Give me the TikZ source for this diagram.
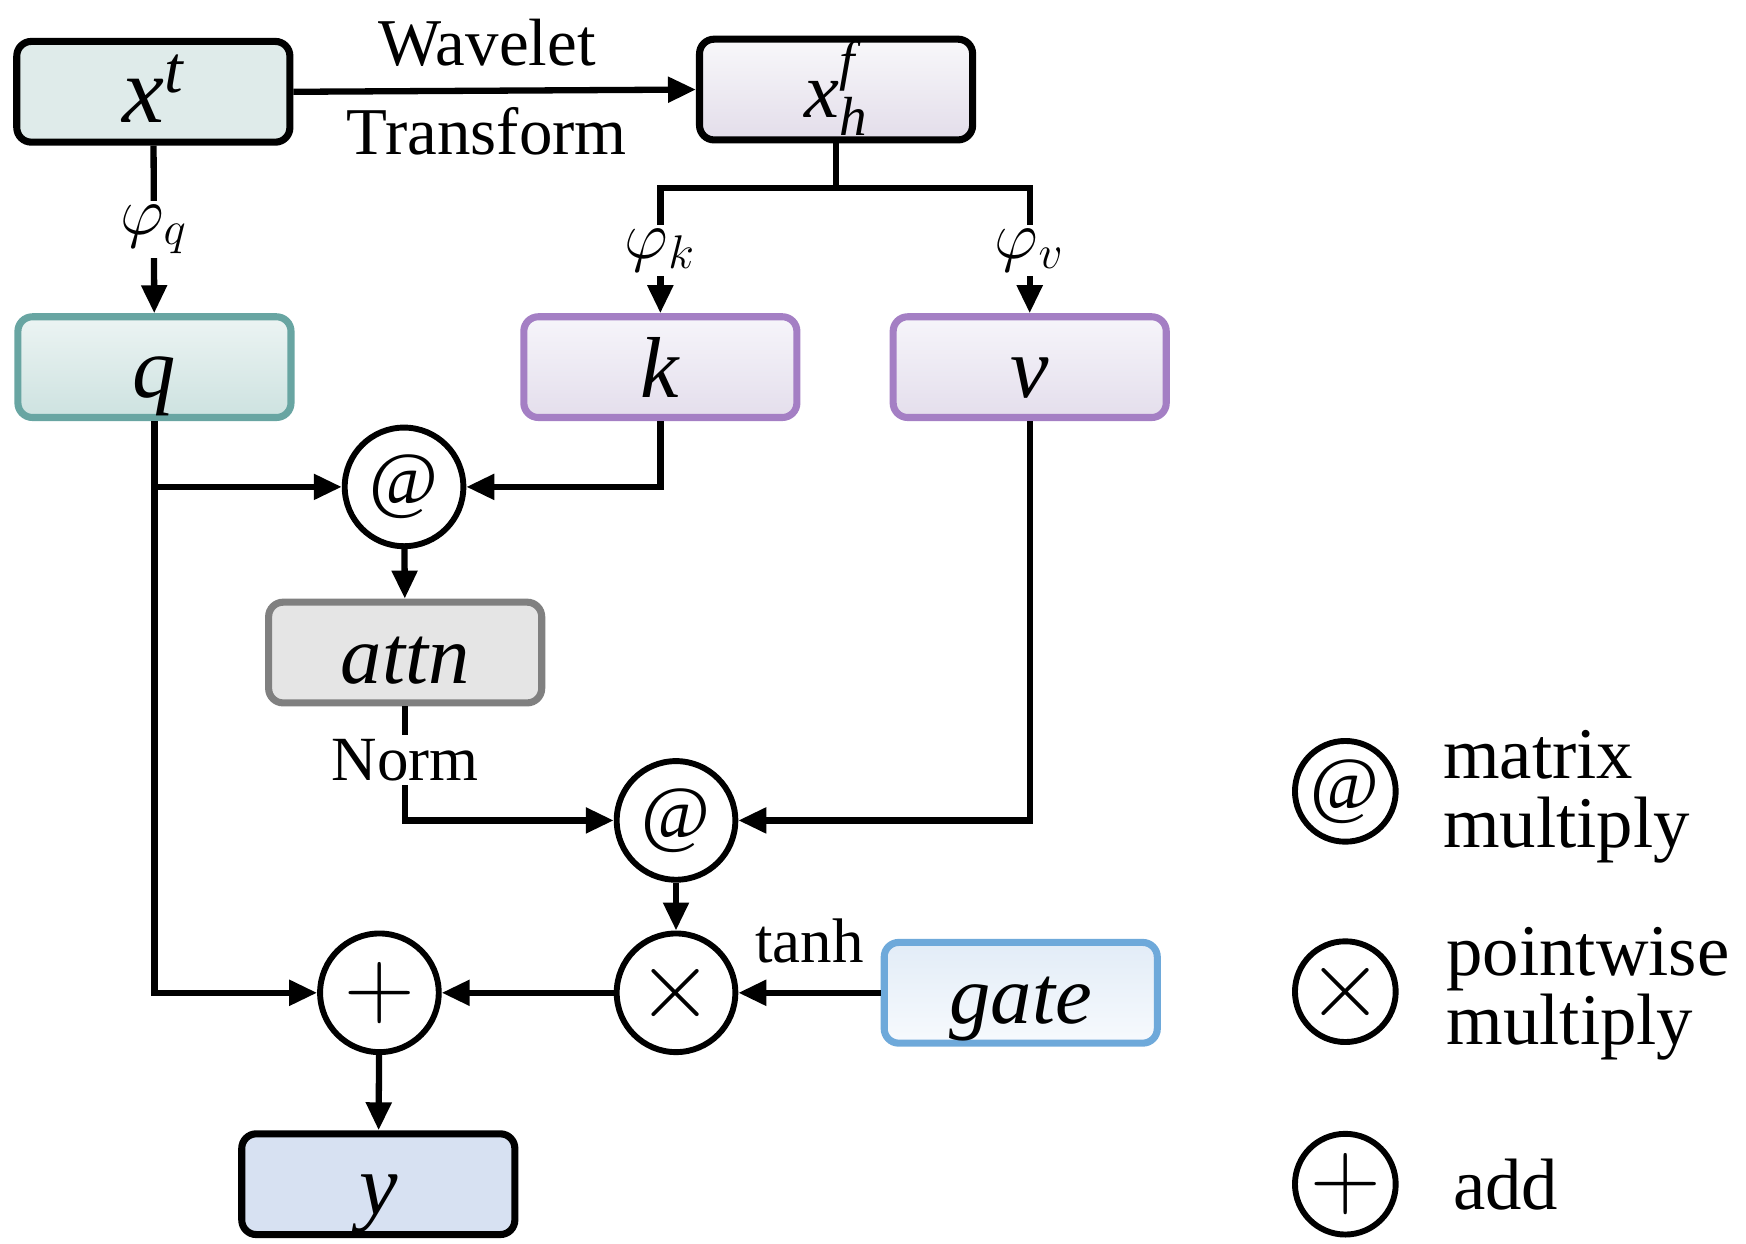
\documentclass[tikz,border=0pt]{standalone}
\usepackage{amsmath}
\usepackage{fontspec}
\setmainfont{Liberation Serif}
\usetikzlibrary{arrows.meta}
\definecolor{xtfill}{HTML}{DFEBEA}
\definecolor{qtop}{HTML}{ECF4F3}
\definecolor{qbot}{HTML}{CDE2E0}
\definecolor{qdraw}{HTML}{68A5A2}
\definecolor{kvtop}{HTML}{F6F5FA}
\definecolor{kvbot}{HTML}{E4DEEC}
\definecolor{kvdraw}{HTML}{A47FC4}
\definecolor{xftop}{HTML}{F8F8FA}
\definecolor{xfbot}{HTML}{E3DDEA}
\definecolor{attnfill}{HTML}{E5E5E5}
\definecolor{attndraw}{HTML}{808080}
\definecolor{gatetop}{HTML}{E2ECF7}
\definecolor{gatebot}{HTML}{F7FAFD}
\definecolor{gatedraw}{HTML}{6EA9DA}
\definecolor{yfill}{HTML}{D7E1F2}
\newcommand{\liftscr}[3]{\raisebox{#1}{\fontsize{#2}{#2}\selectfont\textit{#3}}}
\tikzset{
	blk/.style={rectangle, rounded corners=0.13cm, line width=1.8pt, minimum width=2.44cm, minimum height=0.9cm, text height=15.5pt, text depth=0pt, font=\fontsize{22}{24}\selectfont},
	opc/.style={circle, draw, line width=1.5pt, minimum size=1.06cm, inner sep=0pt, font=\fontsize{19}{20}\selectfont},
	arr/.style={line width=1.6pt, -{Triangle[length=0.25cm,width=0.22cm]}},
	lbl/.style={font=\fontsize{17}{19}\selectfont},
	leg/.style={font=\fontsize{18.5}{17.6}\selectfont, align=left, anchor=west},
}
\begin{document}
\begin{tikzpicture}
	\useasboundingbox (0,0) rectangle (15.6,-11.106);
	\node[blk, draw=black, fill=xtfill, font=\fontsize{24}{26}\selectfont] (xt) at (1.37,-0.82) {\textit{x}\liftscr{0.27cm}{17}{t}};
	\node[blk, draw=black, top color=xftop, bottom color=xfbot, font=\fontsize{20}{22}\selectfont, text height=14.2pt] (xf) at (7.47,-0.80) {\textit{x}\rlap{\liftscr{0.34cm}{14}{f}}\liftscr{-0.16cm}{14}{h}};
	\node[blk, draw=qdraw, top color=qtop, bottom color=qbot] (q) at (1.38,-3.28) {\textit{q}};
	\node[blk, draw=kvdraw, top color=kvtop, bottom color=kvbot] (k) at (5.90,-3.28) {\textit{k}};
	\node[blk, draw=kvdraw, top color=kvtop, bottom color=kvbot] (v) at (9.20,-3.28) {\textit{v}};
	\node[opc] (at1) at (3.61,-4.35) {@};
	\node[blk, draw=attndraw, fill=attnfill, font=\fontsize{21}{23}\selectfont] (attn) at (3.62,-5.83) {\textit{attn}};
	\node[opc] (at2) at (6.04,-7.33) {@};
	\node[opc, font=\fontsize{27}{27}\selectfont] (mul) at (6.04,-8.87) {$\times$};
	\node[blk, draw=gatedraw, top color=gatetop, bottom color=gatebot, font=\fontsize{21}{23}\selectfont] (gate) at (9.12,-8.87) {\textit{gate}};
	\node[opc, font=\fontsize{28}{28}\selectfont] (add) at (3.39,-8.87) {$+$};
	\node[blk, draw=black, fill=yfill] (y) at (3.38,-10.58) {\textit{y}};
	\coordinate (br) at (7.47,-1.68);

	\draw[arr] (xt.east) -- node[lbl, above=0.07cm, xshift=-0.07cm]{Wavelet} node[lbl, below=0cm, xshift=-0.07cm]{Transform} (xf.west);
	\draw[arr] (xt) -- node[lbl, fill=white, inner sep=1pt, font=\fontsize{18}{20}\selectfont]{$\varphi_q$} (q);
	\draw[line width=1.6pt] (xf) -- (br);
	\draw[arr] (br) -| node[lbl, pos=0.75, fill=white, inner sep=1pt, font=\fontsize{18}{20}\selectfont]{$\varphi_k$} (k);
	\draw[arr] (br) -| node[lbl, pos=0.75, fill=white, inner sep=1pt, font=\fontsize{18}{20}\selectfont]{$\varphi_v$} (v);
	\draw[arr] (q.south) |- (at1.west);
	\draw[arr] (q.south) |- (add.west);
	\draw[arr] (k.south) |- (at1.east);
	\draw[arr] (at1) -- (attn);
	\draw[arr] (attn.south) |- node[lbl, pos=0.235, fill=white, inner sep=1pt, font=\fontsize{16}{18}\selectfont]{Norm} (at2.west);
	\draw[arr] (v.south) |- (at2.east);
	\draw[arr] (at2) -- (mul);
	\draw[arr] (gate) -- node[lbl, above=0.12cm, font=\fontsize{16}{18}\selectfont]{tanh} (mul);
	\draw[arr] (mul) -- (add);
	\draw[arr] (add) -- (y);

	\node[opc, minimum size=0.9cm, font=\fontsize{19}{20}\selectfont] (lat) at (12.02,-7.07) {@};
	\node[opc, minimum size=0.9cm, font=\fontsize{24}{24}\selectfont] (lmul) at (12.02,-8.86) {$\times$};
	\node[opc, minimum size=0.9cm, font=\fontsize{25}{25}\selectfont] (ladd) at (12.02,-10.58) {$+$};
	\node[leg] (latt) at (12.77,-7.12) {matrix\\multiply};
	\node[leg] (lmult) at (12.80,-8.88) {pointwise\\multiply};
	\node[leg] (laddt) at (12.86,-10.58) {add};
\end{tikzpicture}
\end{document}
